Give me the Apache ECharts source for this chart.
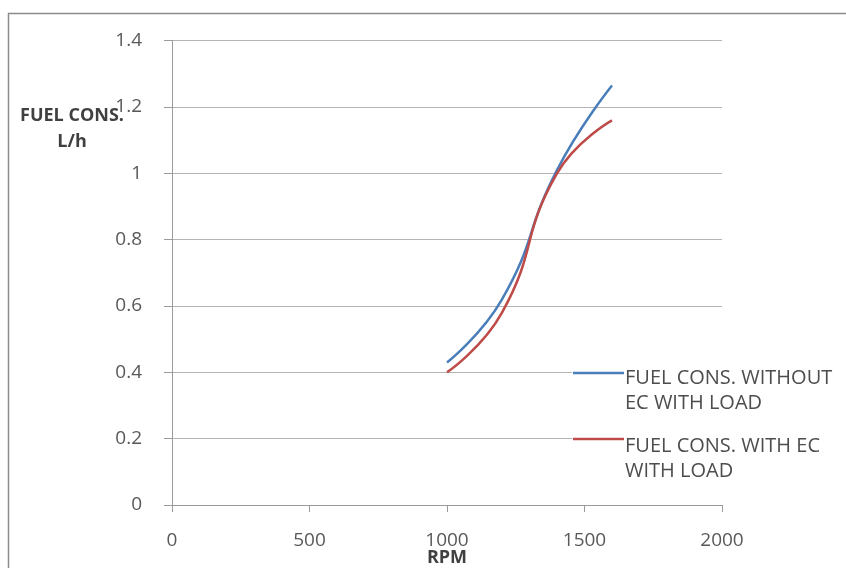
<!DOCTYPE html>
<html>
<head>
<meta charset="utf-8">
<script src="https://cdn.jsdelivr.net/npm/echarts@6/dist/echarts.min.js"></script>
<style>
html,body{margin:0;padding:0;background:#fff;}
#chart{width:846px;height:568px;}
</style>
</head>
<body>
<div id="chart"></div>
<script>
var rpm = [1000, 1200, 1400, 1600];
var withoutEC = [0.43, 0.62, 1.01, 1.265];
var withEC = [0.40, 0.58, 1.00, 1.16];
var xTicks = [0, 500, 1000, 1500, 2000];
var yTicks = [0, 0.2, 0.4, 0.6, 0.8, 1, 1.2, 1.4];
var seriesNames = ['FUEL CONS. WITHOUT EC WITH LOAD', 'FUEL CONS. WITH EC WITH LOAD'];
var legendLines = [['FUEL CONS. WITHOUT', 'EC WITH LOAD'], ['FUEL CONS. WITH EC', 'WITH LOAD']];
var colors = ['#4A7EBB', '#BE4B48'];

var chart = echarts.init(document.getElementById('chart'));
var font = 'Open Sans, Liberation Sans, sans-serif';

function pairs(xs, ys) { return xs.map(function (x, i) { return [x, ys[i]]; }); }

var legendGraphics = [
  { type: 'rect', shape: { x: 572, y: 358, width: 274, height: 125 },
    style: { fill: '#ffffff' }, z: 50 }
];
var legendLineY = [373, 439];
var legendTextTop = [366, 434];
legendLines.forEach(function (lines, i) {
  legendGraphics.push({
    type: 'line', shape: { x1: 573, y1: legendLineY[i], x2: 624, y2: legendLineY[i] },
    style: { stroke: colors[i], lineWidth: 2.5 }, z: 51
  });
  legendGraphics.push({
    type: 'text', x: 625, y: legendTextTop[i], z: 51,
    style: { text: lines.join('\n'), font: '20px ' + font, fill: '#4d4d4d', lineHeight: 25,
      textVerticalAlign: 'top' }
  });
});

var option = {
  backgroundColor: '#fff',
  animation: false,
  grid: { left: 172, right: 124, top: 40.7, bottom: 63, containLabel: false, outerBoundsMode: 'none' },
  xAxis: {
    type: 'value', min: 0, max: 2000, interval: 500,
    name: 'RPM', nameLocation: 'middle', nameGap: 44, nameMoveOverlap: false,
    nameTextStyle: { fontFamily: font, fontWeight: 'bold', fontSize: 18, color: '#404040' },
    axisLine: { show: true, lineStyle: { color: '#9a9a9a', width: 1 } },
    axisTick: { show: true, length: 7, lineStyle: { color: '#9a9a9a' } },
    axisLabel: { fontFamily: font, fontSize: 19, color: '#595959', margin: 26,
      formatter: function (v) { return xTicks.indexOf(v) >= 0 ? String(v) : ''; } },
    splitLine: { show: false }
  },
  yAxis: {
    type: 'value', min: 0, max: 1.4, interval: 0.2,
    axisLine: { show: true, lineStyle: { color: '#9a9a9a', width: 1 } },
    axisTick: { show: true, length: 8, lineStyle: { color: '#9a9a9a' } },
    axisLabel: { fontFamily: font, fontSize: 19, color: '#595959', margin: 30,
      formatter: function (v) {
        var t = yTicks.find(function (y) { return Math.abs(y - v) < 1e-9; });
        return t === undefined ? '' : String(t);
      } },
    splitLine: { show: true, lineStyle: { color: '#b4b4b4', width: 1 } }
  },
  series: [
    { name: seriesNames[0], type: 'line', data: pairs(rpm, withoutEC), smooth: 0.5,
      showSymbol: false, lineStyle: { color: colors[0], width: 2.5 }, itemStyle: { color: colors[0] } },
    { name: seriesNames[1], type: 'line', data: pairs(rpm, withEC), smooth: 0.5,
      showSymbol: false, lineStyle: { color: colors[1], width: 2.5 }, itemStyle: { color: colors[1] } }
  ],
  graphic: [
    { type: 'rect', shape: { x: 8.5, y: 13.5, width: 900, height: 600 },
      style: { fill: 'none', stroke: '#8c8c8c', lineWidth: 1.5 }, z: -1 },
    { type: 'text', x: 72, y: 116,
      style: { text: 'FUEL CONS.', font: 'bold 18px ' + font, fill: '#404040',
        textAlign: 'center', textVerticalAlign: 'middle' } },
    { type: 'text', x: 72, y: 142,
      style: { text: 'L/h', font: 'bold 18px ' + font, fill: '#404040',
        textAlign: 'center', textVerticalAlign: 'middle' } }
  ].concat(legendGraphics)
};
chart.setOption(option);
</script>
</body>
</html>
